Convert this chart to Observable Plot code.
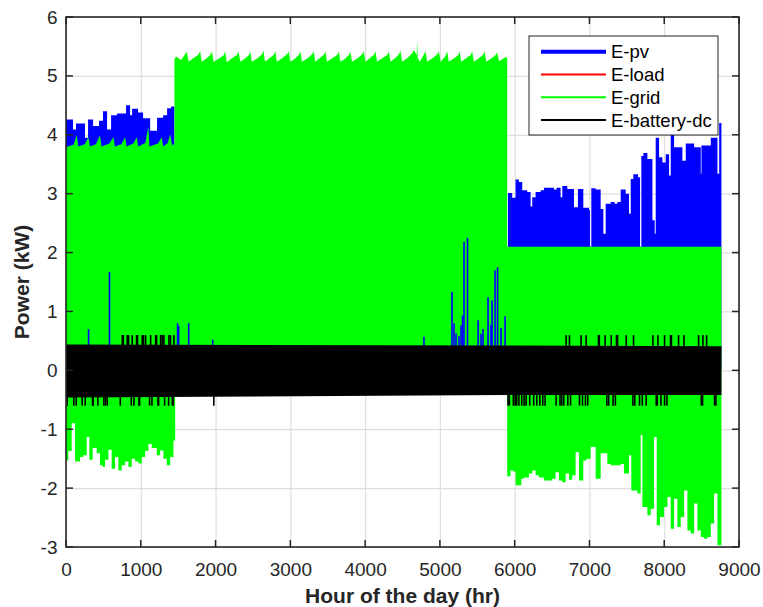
<!DOCTYPE html>
<html><head><meta charset="utf-8">
<script src="https://cdn.jsdelivr.net/npm/d3@7"></script>
<script src="https://cdn.jsdelivr.net/npm/@observablehq/plot@0.6"></script>
<style>body{margin:0;background:#fff;} #chart{width:763px;height:607px;}</style>
</head><body><div id="chart"></div>
<script>
// ---- tick labels / legend ----
const xTicks = [0,1000,2000,3000,4000,5000,6000,7000,8000,9000];
const yTicks = [-3,-2,-1,0,1,2,3,4,5,6];
const seriesNames = ["E-pv","E-load","E-grid","E-battery-dc"];
const seriesColors = ["#0000ff","#ff0000","#00ff00","#000000"];
const xTitle = "Hour of the day (hr)";
const yTitle = "Power (kW)";

// ---- E-pv upper envelope (hour, kW) ----
const pvUpperHr = [0,94,134,254,295,362,442,495,549,603,683,803,857,884,964,1031,1125,1218,1299,1352,1406,1450,
  5910,5967,6012,6057,6101,6168,6213,6235,6280,6347,6391,6525,6561,6614,6637,6704,6793,6846,6918,6994,7007,7025,7083,
  7150,7186,7217,7284,7337,7373,7418,7485,7529,7552,7587,7650,7677,7694,7721,7775,7842,7873,7886,7931,7976,8020,8065,
  8087,8132,8243,8288,8400,8489,8498,8623,8712,8735,8765];
const pvUpperKW = [4.26,4.09,4.19,3.95,4.26,4.15,4.24,4.40,4.09,4.33,4.36,4.50,4.33,4.44,4.38,4.28,4.07,4.29,4.33,4.45,4.48,0,
  3.01,2.93,3.24,3.20,3.06,3.03,2.78,2.94,3.03,3.06,3.10,3.07,3.10,2.94,3.13,3.08,2.77,3.08,2.76,2.72,2.10,3.09,3.07,
  2.74,2.32,2.83,2.86,2.83,2.86,3.07,3.00,2.66,3.25,3.33,3.28,2.10,3.64,3.69,3.59,2.55,2.32,3.95,3.62,3.53,3.67,3.31,
  4.05,3.79,3.56,3.85,3.79,3.34,3.82,3.95,3.34,4.20,0];

// ---- E-pv peaks visible through the grid trace (hour, kW) ----
const pvSpikeHr = [295,575,1486,1500,1634,1955,4780,5155,5182,5209,5249,5276,5296,5316,5363,5504,5544,5570,5637,5677,5691,5731,5765,5811,5865];
const pvSpikeKW = [0.70,1.67,0.80,0.75,0.80,0.52,0.57,1.33,0.80,0.63,0.58,0.76,0.93,2.18,2.25,0.85,0.62,0.70,1.24,0.77,1.19,1.70,1.75,0.72,0.92];

// ---- E-grid upper envelope (hour, kW) ----
const gridUpperHr = [0,20,100,143,165,250,299,320,400,455,475,580,634,655,740,790,810,900,946,965,1060,1102,1115,1230,1281,1300,1360,1393,1420,1450,
  1450,1470,1540,1600,1616,1640,1700,1770,1794,1815,1880,1935,1951,1975,2040,2110,2129,2150,2220,2290,2308,2330,2390,2450,2464,2485,
  2560,2625,2642,2660,2720,2780,2799,2820,2890,2960,2977,3000,3060,3115,3133,3155,3230,3295,3312,3335,3390,3450,3468,3490,
  3560,3630,3647,3670,3730,3785,3803,3825,3900,3965,3981,4005,4060,4120,4138,4160,4230,4300,4316,4340,4400,4455,4472,4495,
  4570,4640,4651,4690,4695,4705,4730,4790,4807,4830,4900,4970,4986,5010,5070,5097,5120,5190,5250,5264,5285,5350,5415,5431,5455,
  5520,5580,5598,5620,5690,5750,5765,5790,5880,5900,5900,8765];
const gridUpperKW = [3.74,3.80,3.83,3.99,3.80,3.84,3.96,3.80,3.84,3.99,3.80,3.85,3.96,3.80,3.84,3.96,3.80,3.85,3.96,3.80,3.86,4.14,3.80,3.85,3.96,3.80,3.86,4.01,3.82,3.85,
  5.28,5.33,5.27,5.38,5.41,5.24,5.30,5.36,5.42,5.24,5.30,5.36,5.42,5.24,5.29,5.35,5.42,5.23,5.30,5.36,5.42,5.24,5.29,5.36,5.42,5.24,
  5.30,5.37,5.43,5.24,5.30,5.36,5.42,5.24,5.30,5.37,5.42,5.24,5.29,5.36,5.42,5.24,5.30,5.37,5.42,5.24,5.30,5.36,5.42,5.24,
  5.30,5.36,5.42,5.24,5.29,5.36,5.41,5.24,5.30,5.37,5.42,5.24,5.30,5.36,5.42,5.24,5.30,5.36,5.42,5.24,5.30,5.37,5.43,5.24,
  5.31,5.40,5.45,5.35,5.60,5.30,5.24,5.37,5.42,5.24,5.30,5.37,5.42,5.24,5.33,5.42,5.24,5.30,5.36,5.42,5.24,5.30,5.36,5.42,5.24,
  5.30,5.36,5.42,5.24,5.30,5.36,5.40,5.25,5.32,5.30,2.10,2.10];

// ---- E-grid lower envelope (hour, kW) ----
const gridLowerHr = [0,31,76,121,188,232,277,312,357,411,455,491,522,567,611,656,701,745,790,835,879,924,969,1013,1058,1102,1147,1214,1259,1303,1348,1393,1437,1460,
  5900,5945,5976,6012,6088,6123,6190,6235,6280,6324,6391,6503,6547,6592,6637,6681,6726,6771,6815,6860,6918,6962,7016,7083,7150,7239,7284,7418,7462,7529,
  7560,7641,7685,7708,7775,7819,7864,7900,7944,7998,8043,8087,8132,8176,8221,8266,8310,8355,8400,8444,8489,8533,8578,8623,8667,8712,8765];
const gridLowerKW = [-1.53,-1.37,-0.90,-1.55,-1.47,-1.44,-1.13,-1.52,-1.32,-1.41,-1.61,-1.64,-1.52,-1.35,-1.67,-1.47,-1.70,-1.61,-1.55,-1.64,-1.50,-1.55,-1.58,-1.47,-1.37,-1.25,-1.32,-1.44,-1.36,-1.50,-1.61,-1.47,-1.19,-0.35,
  -1.80,-1.70,-1.72,-1.95,-1.84,-1.82,-1.75,-1.70,-1.78,-1.82,-1.87,-1.84,-1.73,-1.87,-1.90,-1.75,-1.86,-1.78,-1.39,-1.87,-1.53,-1.50,-1.30,-1.84,-1.41,-1.59,-1.61,-1.59,-1.75,-1.44,
  -2.04,-2.09,-1.10,-2.32,-2.46,-2.35,-1.13,-2.63,-2.49,-2.32,-2.15,-2.69,-2.18,-2.66,-2.49,-2.04,-2.72,-2.77,-2.26,-2.72,-2.83,-2.86,-2.83,-2.60,-2.09,-2.97,0];

// ---- E-battery-dc band and excursions ----
const batHr = [0,5900,8765];
const batTopKW = [0.44,0.42,0.41];
const batBotKW = [-0.46,-0.42,-0.42];
const batUpHr = [746,760,812,830,879,937,950,1013,1030,1058,1125,1192,1205,1259,1280,1303,1370,1390,1437,
  6681,6726,6882,6949,7114,7125,7203,7284,7355,7370,7485,7583,7842,7909,7998,8078,8090,8185,8257,8453,8511,8560];
const batUpKW = 0.60;
const batDnHr = [9,98,130,210,250,348,357,420,500,522,545,719,866,902,969,978,1111,1143,1223,1232,1312,1366,1415,1428,1970,
  5905,5922,5976,6000,6021,6050,6088,6120,6146,6195,6248,6289,6330,6369,6400,6547,6600,6623,6650,6704,6740,6860,6900,6940,6971,
  7226,7250,7310,7340,7574,7600,7663,7700,7752,7886,7900,7950,7998,8030,8489,8506,8667,8685];
const batDnKW = -0.60;

// ---- tables ----
const zip = (hs, vs) => hs.map((h, i) => ({h, v: vs[i]}));
const pvUpper = zip(pvUpperHr, pvUpperKW);
const pvSpikes = zip(pvSpikeHr, pvSpikeKW);
const gridUpper = zip(gridUpperHr, gridUpperKW);
const gridLower = zip(gridLowerHr, gridLowerKW);
const battery = batHr.map((h, i) => ({h, hi: batTopKW[i], lo: batBotKW[i]}));

const AX = "#262626";
const FONT = "'Liberation Sans', Arial, Helvetica, sans-serif";

function decorations(index, scales, values, dims) {
  const L = dims.marginLeft, T = dims.marginTop;
  const R = dims.width - dims.marginRight, B = dims.height - dims.marginBottom;
  const g = d3.create("svg:g");
  const tk = 7;
  for (const t of xTicks) {
    const px = scales.x(t);
    g.append("line").attr("x1", px).attr("x2", px).attr("y1", B).attr("y2", B - tk).attr("stroke", AX).attr("stroke-width", 1.5);
    g.append("line").attr("x1", px).attr("x2", px).attr("y1", T).attr("y2", T + tk).attr("stroke", AX).attr("stroke-width", 1.5);
  }
  for (const t of yTicks) {
    const py = scales.y(t);
    g.append("line").attr("x1", L).attr("x2", L + tk).attr("y1", py).attr("y2", py).attr("stroke", AX).attr("stroke-width", 1.5);
    g.append("line").attr("x1", R).attr("x2", R - tk).attr("y1", py).attr("y2", py).attr("stroke", AX).attr("stroke-width", 1.5);
  }
  g.append("rect").attr("x", L).attr("y", T).attr("width", R - L).attr("height", B - T)
    .attr("fill", "none").attr("stroke", AX).attr("stroke-width", 1.6);
  g.append("text").attr("x", (L + R) / 2).attr("y", 603).attr("text-anchor", "middle")
    .attr("font-weight", "bold").attr("font-size", 21).attr("fill", AX).attr("font-family", FONT).text(xTitle);
  g.append("text").attr("transform", `translate(29,${(T + B) / 2}) rotate(-90)`).attr("text-anchor", "middle")
    .attr("font-weight", "bold").attr("font-size", 21).attr("fill", AX).attr("font-family", FONT).text(yTitle);
  // legend
  const lg = g.append("g");
  lg.append("rect").attr("x", 529).attr("y", 36).attr("width", 189).attr("height", 99)
    .attr("fill", "#fff").attr("stroke", AX).attr("stroke-width", 1);
  seriesNames.forEach((name, i) => {
    const cy = 51.7 + i * 22.8;
    lg.append("line").attr("x1", 541).attr("x2", 606).attr("y1", cy).attr("y2", cy)
      .attr("stroke", seriesColors[i]).attr("stroke-width", i === 0 ? 4 : 2);
    lg.append("text").attr("x", 611).attr("y", cy + 6.5).attr("font-size", 18.5).attr("fill", "#000")
      .attr("text-anchor", "start").attr("font-family", FONT).text(name);
  });
  return g.node();
}

const chart = Plot.plot({
  width: 763, height: 607,
  marginLeft: 66, marginRight: 24, marginTop: 17, marginBottom: 60,
  style: {fontFamily: FONT, background: "#fff"},
  x: {domain: [0, 9000]},
  y: {domain: [-3, 6]},
  marks: [
    Plot.gridX(xTicks, {stroke: "#dedede", strokeOpacity: 1, strokeWidth: 1.2}),
    Plot.gridY(yTicks, {stroke: "#dedede", strokeOpacity: 1, strokeWidth: 1.2}),
    Plot.areaY(pvUpper, {x: "h", y1: 0, y2: "v", curve: "step-after", fill: seriesColors[0]}),
    Plot.areaY(gridUpper, {x: "h", y1: 0, y2: "v", fill: seriesColors[2]}),
    Plot.areaY(gridLower, {x: "h", y1: "v", y2: 0, curve: "step-after", fill: seriesColors[2]}),
    Plot.ruleX(pvSpikes, {x: "h", y1: 0.3, y2: "v", stroke: seriesColors[0], strokeWidth: 1.6}),
    Plot.areaY(battery, {x: "h", y1: "lo", y2: "hi", fill: seriesColors[3]}),
    Plot.ruleX(batUpHr, {x: d => d, y1: 0.3, y2: batUpKW, stroke: seriesColors[3], strokeWidth: 1.6}),
    Plot.ruleX(batDnHr, {x: d => d, y1: -0.3, y2: batDnKW, stroke: seriesColors[3], strokeWidth: 1.6}),
    Plot.axisX({ticks: xTicks, tickSize: 0, tickPadding: 15, fontSize: 19, color: AX, label: null, tickFormat: d => String(d)}),
    Plot.axisY({ticks: yTicks, tickSize: 0, tickPadding: 9, fontSize: 19, color: AX, label: null, tickFormat: d => String(d)}),
    decorations
  ]
});
document.getElementById("chart").appendChild(chart);
</script>
</body></html>
